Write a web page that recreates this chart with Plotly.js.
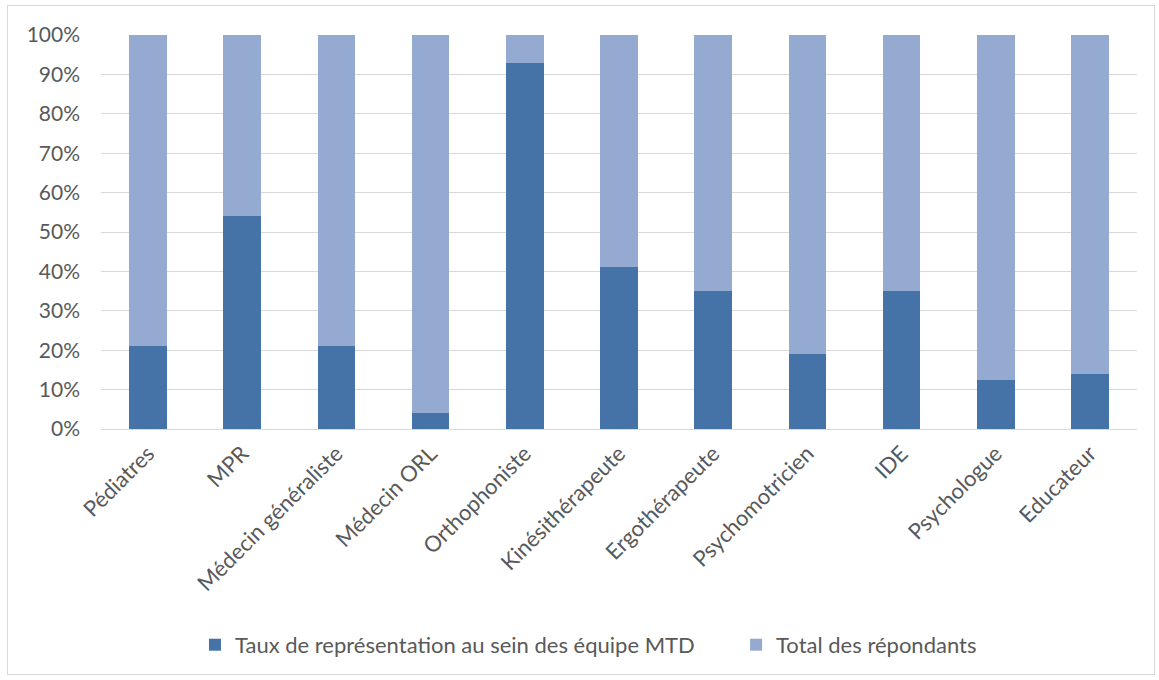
<!DOCTYPE html>
<html>
<head>
<meta charset="utf-8">
<script src="https://cdn.plot.ly/plotly-3.0.1.min.js"></script>
<style>
  html, body { margin: 0; padding: 0; background: #fff; }
  #chart { width: 1159px; height: 680px; }
  #frame { position: absolute; left: 7px; top: 5px; width: 1148px; height: 670px; border: 1px solid #d9d9d9; pointer-events: none; box-sizing: border-box; }
</style>
</head>
<body>
<div id="chart"></div>
<div id="frame"></div>
<script>
const categories = ["Pédiatres", "MPR", "Médecin généraliste", "Médecin ORL", "Orthophoniste", "Kinésithérapeute", "Ergothérapeute", "Psychomotricien", "IDE", "Psychologue", "Educateur"];
const tauxMTD = [21, 54, 21, 4, 93, 41, 35, 19, 35, 12.5, 14];
const totalRepondants = [79, 46, 79, 96, 7, 59, 65, 81, 65, 87.5, 86];
const seriesNames = ["Taux de représentation au sein des équipe MTD", "Total des répondants"];
const yTickVals = [0, 10, 20, 30, 40, 50, 60, 70, 80, 90, 100];
const yTickText = ["0%", "10%", "20%", "30%", "40%", "50%", "60%", "70%", "80%", "90%", "100%"];

const FONT = 'Lato, "Open Sans", sans-serif';

const traces = [
  { type: 'bar', name: seriesNames[0], x: categories, y: tauxMTD, marker: { color: '#4673a7' }, hoverinfo: 'x+y', legend: 'legend' },
  { type: 'bar', name: seriesNames[1], x: categories, y: totalRepondants, marker: { color: '#95aad1' }, hoverinfo: 'x+y', legend: 'legend2' }
];

const legendCommon = { orientation: 'h', xanchor: 'left', y: -0.548, yanchor: 'middle', font: { size: 22, color: '#595959' }, bgcolor: 'rgba(0,0,0,0)' };

const layout = {
  width: 1159, height: 680,
  margin: { l: 101, r: 22, t: 35, b: 251 },
  barmode: 'stack',
  bargap: 0.6,
  paper_bgcolor: '#ffffff', plot_bgcolor: '#ffffff',
  font: { family: FONT, color: '#595959', size: 22 },
  showlegend: true,
  legend: Object.assign({ x: 0.0907 }, legendCommon),
  legend2: Object.assign({ x: 0.613 }, legendCommon),
  xaxis: {
    type: 'category', tickangle: -45, showgrid: false, showline: true, linecolor: '#d9d9d9', linewidth: 1,
    ticks: '', tickfont: { size: 22, color: '#595959' }, ticklabelstandoff: 2, fixedrange: true
  },
  yaxis: {
    range: [0, 100], tickmode: 'array', tickvals: yTickVals, ticktext: yTickText, showgrid: true, gridcolor: '#d9d9d9', gridwidth: 1,
    zeroline: false, showline: false, ticks: '', tickfont: { size: 21, color: '#595959' }, ticklabelstandoff: 20, fixedrange: true
  }
};

Plotly.newPlot('chart', traces, layout, { displayModeBar: false, staticPlot: true });
</script>
</body>
</html>
